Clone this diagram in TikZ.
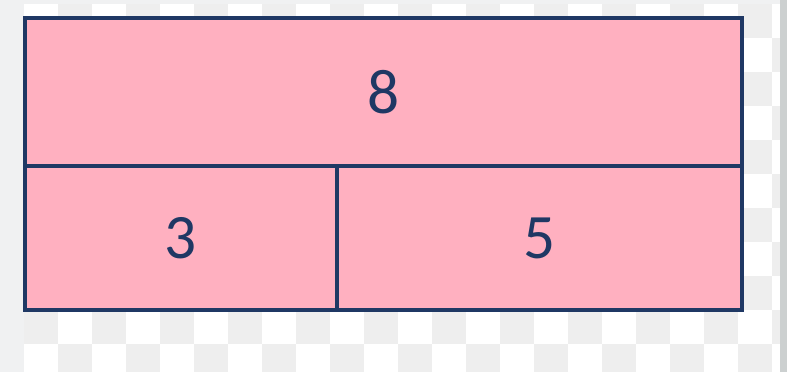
\documentclass[tikz,border=0pt]{standalone}
\usepackage{fontspec}
\setmainfont{Carlito}
\definecolor{barPink}{RGB}{255, 176, 192}
\definecolor{barBlue}{RGB}{31, 56, 100}
\definecolor{checkGray}{RGB}{238, 238, 238}
\definecolor{edgeGray}{RGB}{240, 241, 242}
\definecolor{sideGray}{RGB}{204, 208, 208}
\usetikzlibrary{positioning}

\begin{document}
\begin{tikzpicture}[x=0.1mm, y=0.1mm]
    \tikzset{
        bar/.style={rectangle, draw=barBlue, fill=barPink, line width=1pt, text=barBlue, inner sep=0pt, outer sep=0pt, font=\fontsize{18}{20}\selectfont},
        check/.style={fill=checkGray}
    }
    \useasboundingbox (0,0) rectangle (787,372);
    % background
    \fill[edgeGray] (0,0) rectangle (787,372);
    \fill[white] (24,0) rectangle (780,368);
    \begin{scope}
        \clip (24,0) rectangle (780,368);
        \foreach \i in {0,...,22} {
            \foreach \j in {0,...,10} {
                \pgfmathtruncatemacro{\odd}{mod(\i+\j,2)}
                \ifnum\odd=1
                    \fill[check] (24+34*\i,368-34*\j) rectangle ++(34,-34);
                \fi
            }
        }
    \end{scope}
    \fill[sideGray] (780,0) rectangle (787,372);

    % bars
    \node [bar, minimum width=71.7mm, minimum height=14.8mm] (whole) at (383.5,280) {8};
    \node [bar, minimum width=31.2mm, minimum height=14.4mm, below=0pt of whole.south west, anchor=north west] (partA) {3};
    \node [bar, minimum width=40.5mm, minimum height=14.4mm, right=0pt of partA] (partB) {5};
\end{tikzpicture}
\end{document}
